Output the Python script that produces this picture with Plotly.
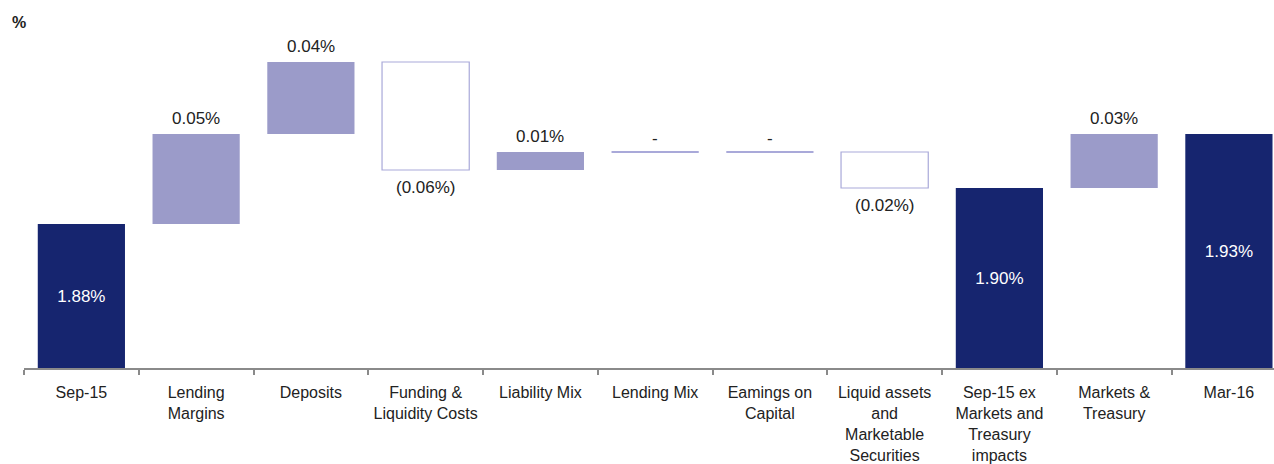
import plotly.graph_objects as go

categories = ["Sep-15", "Lending<br>Margins", "Deposits", "Funding &<br>Liquidity Costs",
              "Liability Mix", "Lending Mix", "Eamings on<br>Capital",
              "Liquid assets<br>and<br>Marketable<br>Securities",
              "Sep-15 ex<br>Markets and<br>Treasury<br>impacts", "Markets &<br>Treasury", "Mar-16"]
kinds = ["total", "delta", "delta", "delta", "delta", "delta", "delta", "delta", "total", "delta", "total"]
values = [1.88, 0.05, 0.04, -0.06, 0.01, 0.00, 0.00, -0.02, 1.90, 0.03, 1.93]
labels = ["1.88%", "0.05%", "0.04%", "(0.06%)", "0.01%", "-", "-", "(0.02%)", "1.90%", "0.03%", "1.93%"]

AXIS_MIN = 1.80
NAVY = "#16256F"
LILAC = "#9B9BC9"
OUTLINE = "#A9A9D9"
TXT = "#222222"
FONT = "Liberation Sans, Arial, sans-serif"
VSIZE = 17

fig = go.Figure()
annotations = []

running = 0.0
for i, (cat, kind, v, lab) in enumerate(zip(categories, kinds, values, labels)):
    if kind == "total":
        running = v
        fig.add_trace(go.Bar(
            x=[cat], y=[v - AXIS_MIN], base=[AXIS_MIN], width=0.76,
            marker=dict(color=NAVY, line=dict(width=0)),
            text=[lab], textposition="inside", insidetextanchor="middle",
            textfont=dict(color="white", size=VSIZE, family=FONT), textangle=0,
            hoverinfo="skip", showlegend=False))
    else:
        start = running
        end = running + v
        running = end
        if v > 0:
            fig.add_trace(go.Bar(
                x=[cat], y=[v], base=[start], width=0.76,
                marker=dict(color=LILAC, line=dict(width=0)),
                hoverinfo="skip", showlegend=False))
            annotations.append(dict(x=cat, y=end, text=lab, yanchor="bottom",
                                    showarrow=False, yshift=4))
        elif v < 0:
            fig.add_trace(go.Bar(
                x=[cat], y=[v], base=[start], width=0.76,
                marker=dict(color="white", line=dict(width=1.2, color=OUTLINE)),
                hoverinfo="skip", showlegend=False))
            annotations.append(dict(x=cat, y=end, text=lab, yanchor="top",
                                    showarrow=False, yshift=-6))
        else:
            fig.add_trace(go.Bar(
                x=[cat], y=[0.0006], base=[start - 0.0003], width=0.76,
                marker=dict(color=OUTLINE, line=dict(width=0)),
                hoverinfo="skip", showlegend=False))
            annotations.append(dict(x=cat, y=end, text=lab, yanchor="bottom",
                                    showarrow=False, yshift=2))

for a in annotations:
    a["font"] = dict(color=TXT, size=VSIZE, family=FONT)

annotations.append(dict(xref="paper", yref="paper", x=-0.004, y=1.0, xanchor="center",
                        yanchor="middle", yshift=-14, text="<b>%</b>", showarrow=False,
                        font=dict(color=TXT, size=16, family=FONT)))

fig.update_layout(
    width=1274, height=464,
    margin=dict(l=24, r=0, t=8, b=96),
    paper_bgcolor="white", plot_bgcolor="white",
    barmode="overlay",
    annotations=annotations,
    font=dict(family=FONT, color=TXT, size=16),
    xaxis=dict(type="category", categoryorder="array", categoryarray=categories,
               range=[-0.5, 10.393], showgrid=False, zeroline=False,
               showline=True, linecolor="#8A8A8A", linewidth=2,
               ticks="outside", tickson="boundaries", ticklen=5, tickwidth=2,
               tickcolor="#8A8A8A", ticklabelstandoff=9,
               tickfont=dict(size=16, color=TXT, family=FONT)),
    yaxis=dict(range=[AXIS_MIN, 2.00], visible=False, showgrid=False, zeroline=False),
)

fig.write_html("out.html")
